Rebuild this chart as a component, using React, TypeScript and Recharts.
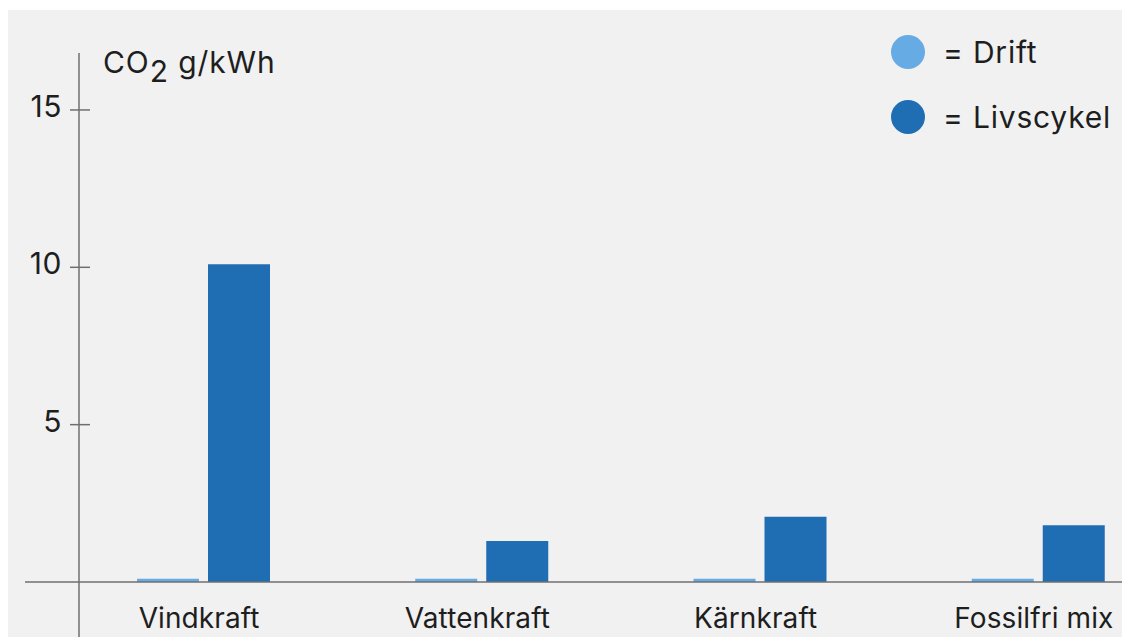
import { BarChart, Bar, XAxis, YAxis, Legend } from 'recharts';

// data
const categories = ['Vindkraft', 'Vattenkraft', 'Kärnkraft', 'Fossilfri mix'];
const drift = [0.1, 0.1, 0.1, 0.1];
const livscykel = [10.1, 1.3, 2.07, 1.8];
const yTicks = [0, 5, 10, 15];

const data = categories.map((name, i) => ({
  name,
  drift: drift[i],
  livscykel: livscykel[i],
}));

const FONT = 'Inter, "Liberation Sans", Arial, sans-serif';
const TEXT = '#1e1e1e';
const AXIS = '#6f6f6f';
const DRIFT_COLOR = '#66abe4';
const LIV_COLOR = '#1f6db3';
const Y_MARGIN = 17;

const YTick = (props: any) => {
  const { x, y, payload } = props;
  const axisX = x + Y_MARGIN;
  if (payload.value === 0) {
    // axis lines reach past the origin in the original
    return (
      <g>
        <line x1={axisX - 54} y1={y} x2={axisX} y2={y} stroke={AXIS} strokeWidth={1.5} />
        <line x1={axisX} y1={y} x2={axisX} y2={y + 60} stroke={AXIS} strokeWidth={1.5} />
      </g>
    );
  }
  return (
    <g>
      <line x1={axisX - 9} y1={y} x2={axisX + 11} y2={y} stroke={AXIS} strokeWidth={1.5} />
      <text
        x={x}
        y={y + 7}
        textAnchor="end"
        fontSize={30}
        letterSpacing={0.5}
        fontFamily={FONT}
        fill={TEXT}
      >
        {payload.value}
      </text>
    </g>
  );
};

const UnitLabel = (props: any) => {
  const { viewBox } = props;
  return (
    <text
      x={viewBox.x + viewBox.width + 24}
      y={viewBox.y + 20}
      fontSize={30}
      letterSpacing={0.9}
      fontFamily={FONT}
      fill={TEXT}
    >
      CO
      <tspan dy={9}>2</tspan>
      <tspan dy={-9}> g/kWh</tspan>
    </text>
  );
};

const LegendContent = (props: any) => {
  const { payload } = props;
  return (
    <div style={{ fontFamily: FONT }}>
      {payload.map((item: any) => (
        <div
          key={item.value}
          style={{ display: 'flex', alignItems: 'center', height: 34, marginBottom: 31 }}
        >
          <div
            style={{
              width: 34,
              height: 34,
              borderRadius: '50%',
              background: item.color,
              marginRight: 18,
            }}
          />
          <span
            style={{ fontSize: 30, letterSpacing: 0.8, color: TEXT, whiteSpace: 'nowrap' }}
          >
            = {item.value}
          </span>
        </div>
      ))}
    </div>
  );
};

export default function App() {
  return (
    <div
      style={{
        position: 'absolute',
        left: 0,
        top: 0,
        width: 1122,
        height: 637,
        background: '#ffffff',
        overflow: 'hidden',
      }}
    >
      <div
        style={{
          position: 'absolute',
          left: 8,
          top: 10,
          right: 0,
          bottom: 0,
          background: '#f1f1f1',
        }}
      />
      <div style={{ position: 'absolute', left: 0, top: 0 }}>
        <BarChart
          width={1122}
          height={637}
          data={data}
          margin={{ top: 53, right: 0, left: 0, bottom: 0 }}
          barSize={62}
          barGap={9}
        >
          <XAxis
            dataKey="name"
            height={55}
            padding={{ left: -15, right: -55 }}
            axisLine={{ stroke: AXIS, strokeWidth: 1.5 }}
            tickLine={false}
            tickSize={0}
            tickMargin={26}
            tick={{ fontSize: 28, letterSpacing: 0.1, dx: -4, fill: TEXT, fontFamily: FONT }}
            interval={0}
          />
          <YAxis
            width={79}
            domain={[0, 16.81]}
            ticks={yTicks}
            allowDataOverflow
            axisLine={{ stroke: AXIS, strokeWidth: 1.5 }}
            tickLine={false}
            tickSize={0}
            tickMargin={Y_MARGIN}
            tick={<YTick />}
            label={<UnitLabel />}
          />
          {/* centred + middle keeps the legend from taking plot space */}
          <Legend
            layout="horizontal"
            verticalAlign="middle"
            align="center"
            wrapperStyle={{ top: 35, left: 891, width: 230 }}
            content={<LegendContent />}
          />
          <Bar dataKey="drift" name="Drift" fill={DRIFT_COLOR} isAnimationActive={false} />
          <Bar dataKey="livscykel" name="Livscykel" fill={LIV_COLOR} isAnimationActive={false} />
        </BarChart>
      </div>
    </div>
  );
}
